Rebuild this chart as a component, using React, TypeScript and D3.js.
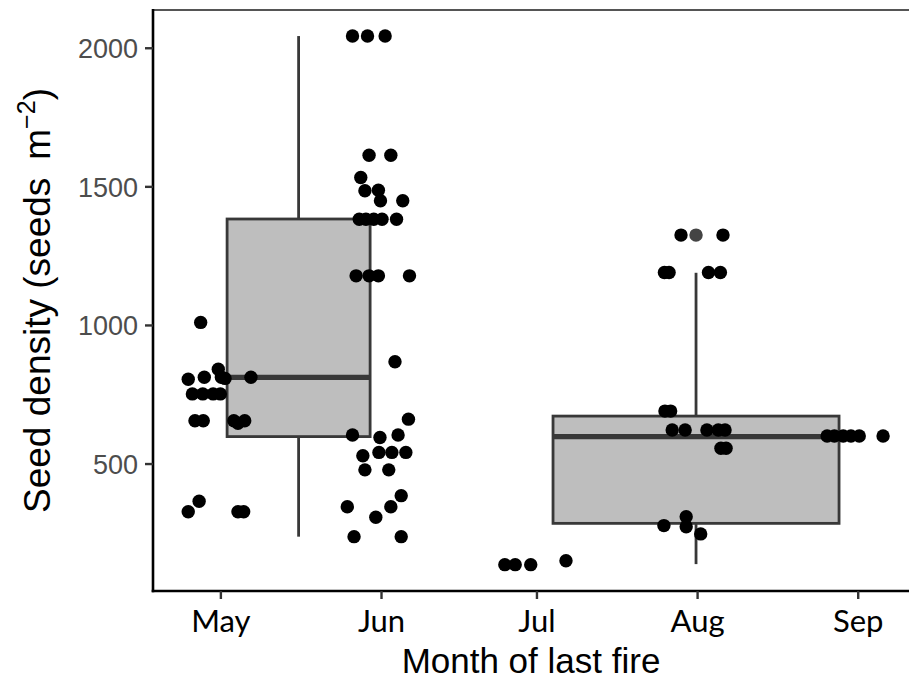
import React from 'react';
import * as d3 from 'd3';

// x is days after 1 May, y is seeds per m2
const monthTicks = [0, 31, 61, 92, 123];
const monthLabels = ['May', 'Jun', 'Jul', 'Aug', 'Sep'];
const yTicks = [500, 1000, 1500, 2000];

const mayPts: [number, number][] = [
  [-3.9, 1011], [-6.3, 806], [-3.2, 813], [-0.5, 842], [0.1, 813], [0.8, 809], [5.8, 813],
  [-5.5, 753], [-3.5, 753], [-1.5, 753], [-0.1, 753],
  [-5.0, 656], [-3.4, 656], [2.5, 656], [3.3, 647], [4.6, 656],
  [-4.2, 366], [-6.3, 328], [3.3, 328], [4.4, 328],
];
const junPts: [number, number][] = [
  [25.4, 2044], [28.3, 2044], [31.7, 2044],
  [28.6, 1614], [32.8, 1614], [27.0, 1534], [27.8, 1486], [30.4, 1488],
  [30.8, 1450], [35.1, 1450],
  [26.7, 1383], [28.0, 1383], [29.5, 1383], [31.1, 1383], [33.9, 1383],
  [26.1, 1179], [28.6, 1179], [30.4, 1179], [36.4, 1179],
  [33.6, 869], [36.2, 662], [25.4, 605], [30.7, 596], [34.2, 605],
  [27.4, 530], [30.5, 542], [33.0, 542], [35.7, 542],
  [27.8, 479], [32.4, 479], [34.8, 386], [24.4, 346], [32.8, 346],
  [29.9, 308], [25.7, 238], [34.8, 238],
];
const julPts: [number, number][] = [
  [54.8, 137], [56.8, 137], [59.8, 137], [66.6, 151],
];
const augPts: [number, number][] = [
  [88.8, 1326], [96.9, 1326],
  [85.6, 1191], [86.5, 1191], [94.1, 1191], [96.4, 1191],
  [85.7, 691], [86.8, 691],
  [87.1, 623], [89.6, 623], [93.8, 623], [96.0, 623], [97.3, 623],
  [96.5, 557], [97.5, 557],
  [85.5, 278], [89.8, 310], [89.8, 274], [92.6, 248],
];
const sepPts: [number, number][] = [
  [117.0, 601], [118.4, 601], [120.1, 601], [121.6, 601], [123.2, 601], [127.8, 601],
];

// two boxplots: early (May-Jun) and late (Jul-Sep) fires
const boxStart = [1.2, 64.1];
const boxEnd = [28.8, 119.3];
const boxLow = [238, 139];
const boxQ1 = [599, 286];
const boxMedian = [813, 599];
const boxQ3 = [1384, 673];
const boxHigh = [2044, 1190];
const boxOutliers: number[][] = [[], [1326]];

const W = 909;
const H = 679;
const left = 153;
const top = 10;
const bottom = 591;

export default function App() {
  const x = d3.scaleLinear().domain([-13.1, 132.8]).range([left, W]);
  const y = d3.scaleLinear().domain([42, 2138]).range([bottom, top]);
  const allPts = [...mayPts, ...junPts, ...julPts, ...augPts, ...sepPts];
  const boxColor = '#383838';

  return (
    <svg
      width={W}
      height={H}
      style={{ position: 'absolute', left: 0, top: 0, background: '#fff' }}
      fontFamily="'Liberation Sans', Arial, sans-serif"
    >
      <rect x={0} y={0} width={W} height={H} fill="#fff" />
      {/* top border of the panel */}
      <line x1={left} x2={W} y1={top} y2={top} stroke="#555" strokeWidth={2} />

      {boxStart.map((s, i) => {
        const cx = x((s + boxEnd[i]) / 2);
        return (
          <g key={i}>
            <line x1={cx} x2={cx} y1={y(boxQ3[i])} y2={y(boxHigh[i])} stroke={boxColor} strokeWidth={2.8} />
            <line x1={cx} x2={cx} y1={y(boxQ1[i])} y2={y(boxLow[i])} stroke={boxColor} strokeWidth={2.8} />
            <rect
              x={x(s)}
              y={y(boxQ3[i])}
              width={x(boxEnd[i]) - x(s)}
              height={y(boxQ1[i]) - y(boxQ3[i])}
              fill="#bebebe"
              stroke={boxColor}
              strokeWidth={2.8}
            />
            <line x1={x(s)} x2={x(boxEnd[i])} y1={y(boxMedian[i])} y2={y(boxMedian[i])} stroke={boxColor} strokeWidth={5.2} />
            {boxOutliers[i].map((v, j) => (
              <circle key={j} cx={cx} cy={y(v)} r={6.7} fill="#444" />
            ))}
          </g>
        );
      })}

      {allPts.map((p, i) => (
        <circle key={i} cx={x(p[0])} cy={y(p[1])} r={6.7} fill="#000" />
      ))}

      {/* axes */}
      <line x1={left} x2={left} y1={top - 1} y2={bottom + 1.3} stroke="#000" strokeWidth={2.6} />
      <line x1={left - 1.3} x2={W} y1={bottom} y2={bottom} stroke="#000" strokeWidth={2.6} />

      {yTicks.map((t) => (
        <g key={t}>
          <line x1={left - 8} x2={left} y1={y(t)} y2={y(t)} stroke="#333" strokeWidth={2.4} />
          <text x={left - 15} y={y(t)} dy="0.36em" textAnchor="end" fontSize={27} fill="#4d4d4d">
            {t}
          </text>
        </g>
      ))}

      {monthTicks.map((t, i) => (
        <g key={t}>
          <line x1={x(t)} x2={x(t)} y1={bottom} y2={bottom + 8} stroke="#333" strokeWidth={2.4} />
          <text x={x(t)} y={632} textAnchor="middle" fontSize={31} fill="#000" fontFamily="Lato, 'Open Sans', sans-serif">
            {monthLabels[i]}
          </text>
        </g>
      ))}

      <text x={(left + W) / 2} y={673} textAnchor="middle" fontSize={35} fill="#000">
        Month of last fire
      </text>
      <text transform={`translate(50,${(top + bottom) / 2}) rotate(-90)`} textAnchor="middle" fontSize={37} fill="#000">
        Seed density (seeds
        <tspan dx={18}>m</tspan>
        <tspan fontSize={25} dy={-15}>−2</tspan>
        <tspan dy={15}>)</tspan>
      </text>
    </svg>
  );
}
